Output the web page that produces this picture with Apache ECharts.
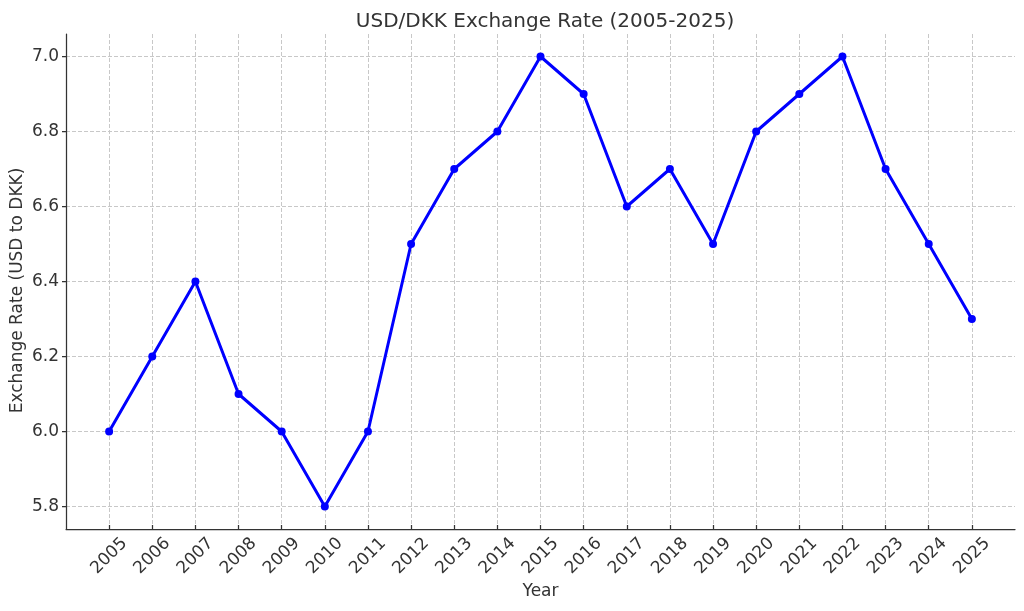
<!DOCTYPE html>
<html><head><meta charset="utf-8">
<script src="https://cdn.jsdelivr.net/npm/echarts@6/dist/echarts.min.js"></script>
<style>html,body{margin:0;padding:0;background:#fff}#c{width:1024px;height:611px}</style>
</head><body><div id="c"></div>
<script>
const years = [2005,2006,2007,2008,2009,2010,2011,2012,2013,2014,2015,2016,2017,2018,2019,2020,2021,2022,2023,2024,2025];
const rates = [6.0,6.2,6.4,6.1,6.0,5.8,6.0,6.5,6.7,6.8,7.0,6.9,6.6,6.7,6.5,6.8,6.9,7.0,6.7,6.5,6.3];
const yTicks = [5.8,6.0,6.2,6.4,6.6,6.8,7.0];
const titleText = 'USD/DKK Exchange Rate (2005-2025)';

const font = 'DejaVu Sans';
const chart = echarts.init(document.getElementById('c'), null, {renderer:'canvas'});
chart.setOption({
  animation:false,
  backgroundColor:'#fff',
  title:{text:titleText,left:540,textAlign:'center',top:7,textStyle:{fontFamily:font,fontSize:20,fontWeight:'normal',color:'#333'}},
  grid:{left:66,right:9,top:34,bottom:82,containLabel:false,outerBoundsMode:'none'},
  xAxis:{type:'value',min:2004,max:2026,
    name:'Year',nameLocation:'middle',nameGap:54,nameMoveOverlap:false,
    nameTextStyle:{fontFamily:font,fontSize:17,color:'#333'},
    axisLine:{show:true,onZero:false,lineStyle:{color:'#333',width:1.25}},
    axisTick:{show:true,inside:true,length:4,customValues:years,lineStyle:{color:'#333',width:1.25}},
    axisLabel:{customValues:years,rotate:45,align:'center',verticalAlign:'middle',margin:27,fontFamily:font,fontSize:17,color:'#333',formatter:v=>String(v)},
    splitLine:{show:true,lineStyle:{color:'#c8c8c8',type:[4,2],width:1}}
  },
  yAxis:{type:'value',min:5.74,max:7.06,
    name:'Exchange Rate (USD to DKK)',nameLocation:'middle',nameGap:40,nameMoveOverlap:false,
    nameTextStyle:{fontFamily:font,fontSize:17,color:'#333',padding:[0,18,0,0]},
    axisLine:{show:true,lineStyle:{color:'#333',width:1.25}},
    axisTick:{show:true,length:4,customValues:yTicks,lineStyle:{color:'#333',width:1.25}},
    axisLabel:{customValues:yTicks,margin:7,fontFamily:font,fontSize:17,color:'#333',formatter:v=>v.toFixed(1)},
    splitLine:{show:true,lineStyle:{color:'#c8c8c8',type:[4,2],width:1}}
  },
  series:[{type:'line',data:years.map((y,i)=>[y,rates[i]]),
    lineStyle:{color:'#0000ff',width:3},itemStyle:{color:'#0000ff'},
    symbol:'circle',symbolSize:8,showSymbol:true}]
});
</script></body></html>
